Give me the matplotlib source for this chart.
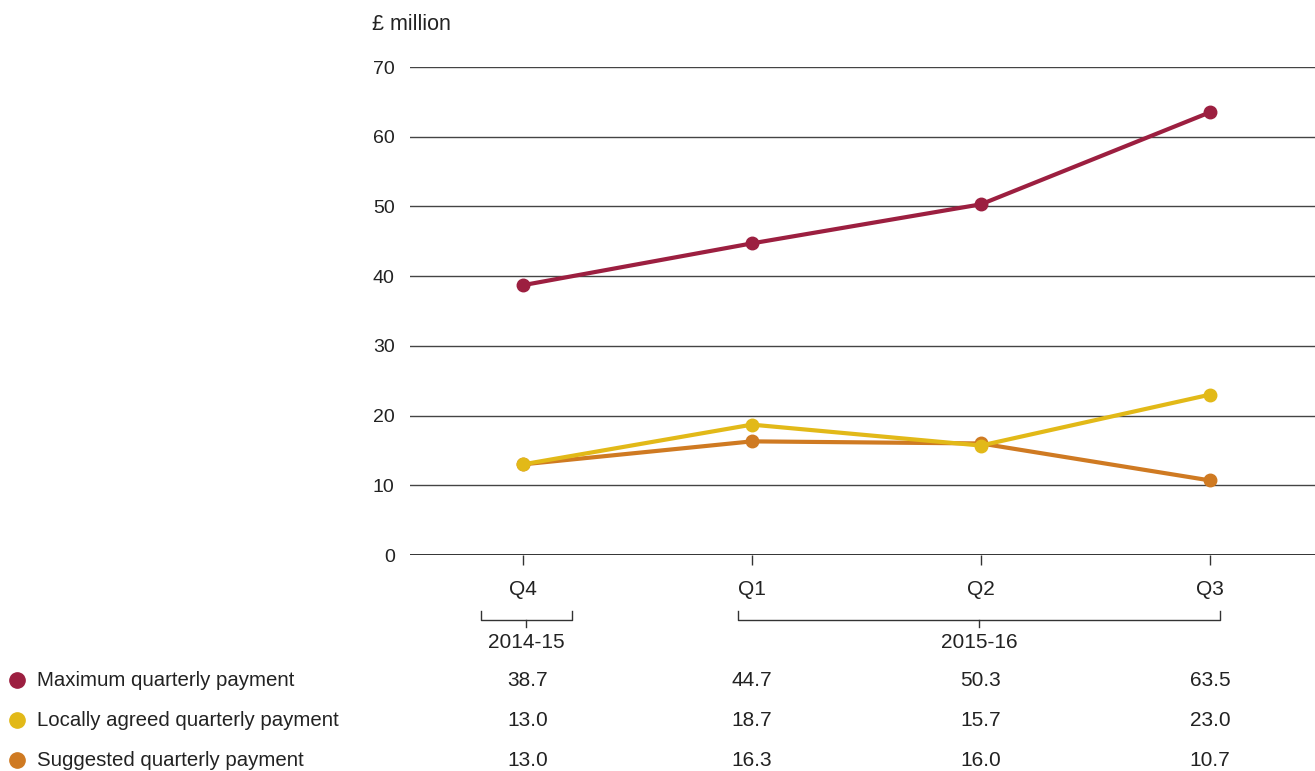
import numpy as np
import matplotlib.pyplot as plt
from matplotlib.lines import Line2D
from matplotlib.transforms import blended_transform_factory

plt.rcParams['font.family'] = ['Liberation Sans', 'DejaVu Sans']

quarters = ['Q4', 'Q1', 'Q2', 'Q3']
maximum = [38.7, 44.7, 50.3, 63.5]
locally_agreed = [13.0, 18.7, 15.7, 23.0]
suggested = [13.0, 16.3, 16.0, 10.7]
series_names = ['Maximum quarterly payment', 'Locally agreed quarterly payment',
                'Suggested quarterly payment']
years = ['2014-15', '2015-16']
yticks = [0, 10, 20, 30, 40, 50, 60, 70]

c_max = '#9c1f40'
c_loc = '#e2b918'
c_sug = '#cf7a22'
text_c = '#222222'

W, H = 1315, 771
fig = plt.figure(figsize=(W / 100, H / 100), dpi=100)
ax = fig.add_axes([410 / W, 1 - 555 / H, (1315 - 410) / W, (555 - 67) / H])

x = np.arange(len(quarters))
ax.plot(x, maximum, color=c_max, lw=3, marker='o', ms=9, zorder=3, solid_capstyle='round')
ax.plot(x, suggested, color=c_sug, lw=3, marker='o', ms=9, zorder=3, solid_capstyle='round')
ax.plot(x, locally_agreed, color=c_loc, lw=3, marker='o', ms=9, zorder=4, solid_capstyle='round')

ax.set_xlim(-0.493, 3.459)
ax.set_ylim(0, 70)
for v in yticks[1:]:
    ax.axhline(v, color='#444444', lw=1, zorder=1)
ax.axhline(0, color='#111111', lw=1.2, zorder=2)
for s in ax.spines.values():
    s.set_visible(False)
ax.set_yticks(yticks)
ax.set_yticklabels([str(v) for v in yticks], fontsize=14, color=text_c)
ax.tick_params(axis='y', length=0, pad=11)
ax.set_xticks(x)
ax.set_xticklabels(quarters, fontsize=15, color=text_c)
ax.tick_params(axis='x', length=7, width=1, color='#333333', pad=11, direction='out')
ax.patch.set_visible(False)

fig.text(372 / W, 1 - 25 / H, '£ million', fontsize=15.5, color=text_c, va='center', ha='left')

# year brackets
tr = blended_transform_factory(ax.transData, fig.transFigure)
def px_x(p):
    return (p - 523) / 229.0

def bracket(x0, x1, label):
    yb = 1 - 620 / H
    yt = 1 - 611 / H
    ax.plot([x0, x0, x1, x1], [yt, yb, yb, yt], transform=tr, color='#333333',
            lw=1, clip_on=False)
    xm = (x0 + x1) / 2
    ax.plot([xm, xm], [yb, 1 - 627 / H], transform=tr, color='#333333', lw=1, clip_on=False)
    ax.text(xm, 1 - 642 / H, label, transform=tr, ha='center', va='center',
            fontsize=15, color=text_c)

bracket(px_x(481), px_x(572), years[0])
bracket(px_x(738), px_x(1220), years[1])

# data table with legend
rows = [maximum, locally_agreed, suggested]
colors = [c_max, c_loc, c_sug]
row_y = [680, 720, 760]
value_x = [px_x(528), 1, 2, 3]
for vals, name, col, ry in zip(rows, series_names, colors, row_y):
    fy = 1 - ry / H
    fig.add_artist(Line2D([17 / W], [fy], transform=fig.transFigure, marker='o',
                          ms=11, color=col, lw=0))
    fig.text(37 / W, fy, name, fontsize=14.7, color=text_c, va='center', ha='left')
    for vx, v in zip(value_x, vals):
        ax.text(vx, fy, f'{v:.1f}', transform=tr, ha='center', va='center',
                fontsize=15, color=text_c)

fig.savefig('out.png', dpi=100)
